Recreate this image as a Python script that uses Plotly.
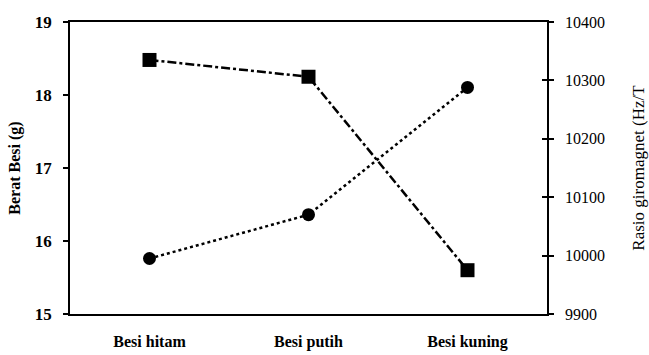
import plotly.graph_objects as go

categories = ["Besi hitam", "Besi putih", "Besi kuning"]
berat_besi = [18.48, 18.25, 15.6]           # g, left axis (squares)
rasio_giromagnet = [9995, 10070, 10288]     # Hz/T, right axis (circles)
left_ticks = [15, 16, 17, 18, 19]
right_ticks = [9900, 10000, 10100, 10200, 10300, 10400]
right_tick_labels = [str(v) for v in right_ticks]

serif = "Liberation Serif, Times New Roman, serif"

fig = go.Figure()
fig.add_trace(go.Scatter(
    x=categories, y=berat_besi, mode="lines+markers",
    line=dict(color="black", width=2.5, dash="dashdot"),
    marker=dict(symbol="square", size=14, color="black"),
    yaxis="y", showlegend=False, cliponaxis=False))
fig.add_trace(go.Scatter(
    x=categories, y=rasio_giromagnet, mode="lines+markers",
    line=dict(color="black", width=2.5, dash="dot"),
    marker=dict(symbol="circle", size=13, color="black"),
    yaxis="y2", showlegend=False, cliponaxis=False))
# invisible trace to carry the inner half of the right-axis cross ticks
fig.add_trace(go.Scatter(
    x=categories, y=rasio_giromagnet, mode="markers",
    marker=dict(opacity=0), yaxis="y3", showlegend=False, hoverinfo="skip"))

fig.update_layout(
    width=649, height=355,
    margin=dict(l=70, r=102, t=22, b=41),
    paper_bgcolor="white", plot_bgcolor="white",
    font=dict(family=serif, color="black"),
    xaxis=dict(
        type="category", range=[-0.5, 2.5], automargin=False,
        domain=[0, 1],
        showline=True, linecolor="black", linewidth=1.5, mirror=True,
        showgrid=False, ticks="", zeroline=False,
        tickfont=dict(size=16, family=serif, weight="bold"),
        ticklabelstandoff=12),
    yaxis=dict(
        range=[15, 19], tickvals=left_ticks, automargin=False,
        showline=True, linecolor="black", linewidth=1.5,
        showgrid=False, zeroline=False,
        ticks="outside", ticklen=5, tickwidth=1.5, tickcolor="black",
        ticklabelstandoff=8,
        tickfont=dict(size=17, family=serif, weight="bold"),
        title=dict(text="Berat Besi (g)", standoff=10,
                   font=dict(size=16, family=serif, weight="bold"))),
    yaxis2=dict(
        range=[9900, 10400], tickvals=right_ticks, ticktext=right_tick_labels,
        overlaying="y", side="right", anchor="x", automargin=False,
        showline=True, linecolor="black", linewidth=1.5,
        showgrid=False, zeroline=False,
        ticks="outside", ticklen=5, tickwidth=1.5, tickcolor="black",
        ticklabelstandoff=8,
        tickfont=dict(size=16, family=serif),
        title=dict(text="Rasio giromagnet (Hz/T", standoff=28,
                   font=dict(size=17, family=serif))),
    yaxis3=dict(
        range=[9900, 10400], tickvals=right_ticks[1:-1],
        overlaying="y", side="left", anchor="free", position=1,
        automargin=False,
        showline=False, showgrid=False, zeroline=False,
        ticks="outside", ticklen=5, tickwidth=1.5, tickcolor="black",
        showticklabels=False),
)

fig.write_html("out.html", post_script="document.body.style.margin='0';",
               config={"displayModeBar": False})
